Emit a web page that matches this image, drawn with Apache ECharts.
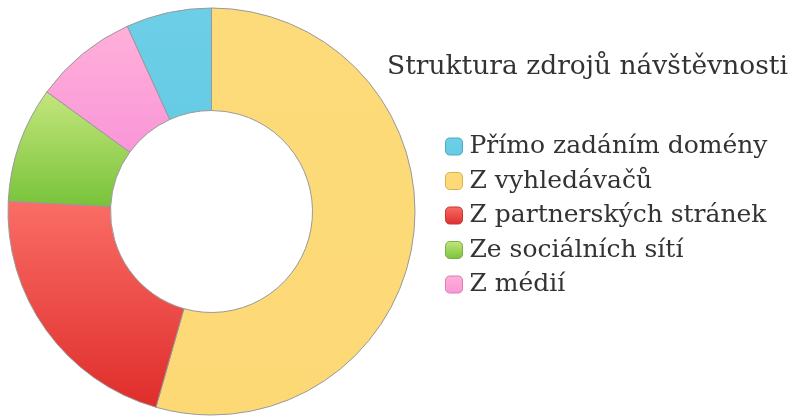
<!DOCTYPE html>
<html>
<head>
<meta charset="utf-8">
<script src="https://cdn.jsdelivr.net/npm/echarts@6/dist/echarts.min.js"></script>
<style>
  html, body { margin: 0; padding: 0; background: #fff; }
  #chart { width: 797px; height: 417px; }
</style>
</head>
<body>
<div id="chart"></div>
<script>
const titleText = 'Struktura zdrojů návštěvnosti'
const categories = ['Přímo zadáním domény', 'Z vyhledávačů', 'Z partnerských stránek', 'Ze sociálních sítí', 'Z médií']
const shares = [6.8, 54.4, 21.4, 9.2, 8.2]
// top / bottom colour of each slice gradient
const topColors = ['#6dcfe7', '#fddb7a', '#fa6d66', '#c4e67c', '#ffb0d9']
const bottomColors = ['#66cbe5', '#fdd976', '#df2d2b', '#78c33a', '#fa96d9']
const iconBorders = ['#4aa9c4', '#d9b04e', '#c43a34', '#7fae47', '#d97fae']

const fontFamily = '"DejaVu Serif", serif'

const grad = (i) => new echarts.graphic.LinearGradient(0, 0, 0, 1, [
  { offset: 0, color: topColors[i] },
  { offset: 1, color: bottomColors[i] }
])

const total = shares.reduce((a, b) => a + b, 0)
// first slice ends at 12 o'clock
const startAngle = 90 + shares[0] / total * 360

const chart = echarts.init(document.getElementById('chart'), null, { renderer: 'canvas' })

chart.setOption({
  animation: false,
  backgroundColor: '#fff',
  title: {
    text: titleText,
    left: 387,
    top: 54,
    padding: 0,
    textStyle: {
      fontFamily,
      fontWeight: 'normal',
      fontSize: 26.5,
      color: '#333'
    }
  },
  legend: {
    orient: 'vertical',
    left: 445,
    top: 134,
    padding: 0,
    icon: 'roundRect',
    itemWidth: 17,
    itemHeight: 17,
    itemGap: 9.5,
    textStyle: {
      fontFamily,
      fontSize: 25,
      lineHeight: 25,
      color: '#333',
      padding: [0, 0, 0, 2]
    },
    data: categories.map((name, i) => ({
      name,
      itemStyle: { color: grad(i), borderColor: iconBorders[i], borderWidth: 1 }
    }))
  },
  series: [
    {
      type: 'pie',
      center: [211.5, 211.5],
      radius: [101, 203.5],
      startAngle,
      clockwise: true,
      label: { show: false },
      labelLine: { show: false },
      emphasis: { disabled: true },
      itemStyle: { borderColor: '#999', borderWidth: 1 },
      data: categories.map((name, i) => ({
        name,
        value: shares[i],
        itemStyle: { color: grad(i) }
      }))
    }
  ]
})
</script>
</body>
</html>
